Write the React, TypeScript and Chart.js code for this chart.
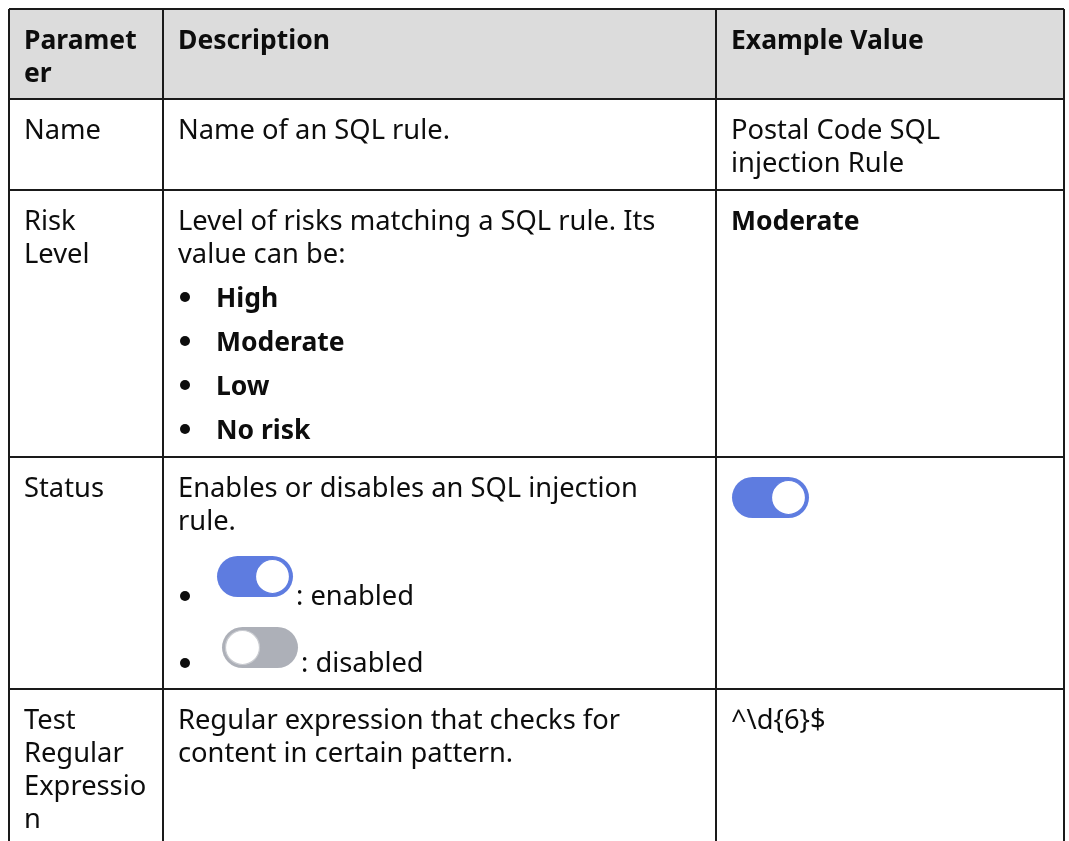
import React, { useEffect, useRef } from "react";
import { Chart, registerables } from "chart.js";

Chart.register(...registerables);

// ---------- data ----------
const columnHeaders = ["Paramet\ner", "Description", "Example Value"];
const parameterNames = ["Name", "Risk\nLevel", "Status", "Test\nRegular\nExpressio\nn"];
const descriptions = [
  "Name of an SQL rule.",
  "Level of risks matching a SQL rule. Its\nvalue can be:",
  "Enables or disables an SQL injection\nrule.",
  "Regular expression that checks for\ncontent in certain pattern.",
];
const riskLevels = ["High", "Moderate", "Low", "No risk"];
const statusStates = [true, false];
const statusLabels = [": enabled", ": disabled"];
const exampleValues = ["Postal Code SQL\ninjection Rule", "Moderate", "", "^\\d{6}$"];
const exampleBold = [false, true, false, false];
const exampleToggle: (boolean | null)[] = [null, null, true, null];

// ---------- layout ----------
const W = 1069;
const H = 841;
const COL_EDGES = [9, 163, 716, 1064];
const ROW_EDGES = [9, 99, 190, 457, 689];
const PAD_X = 15;
const FIRST_BASELINE = 40;
const LINE_H = 33;
const BULLET_LINE_H = 44;
const FONT_FAMILY = '"Noto Sans", "Open Sans", sans-serif';
const FONT_SIZE = 27.3;
const BOLD_FONT_SIZE = 26.5;
const TEXT_COLOR = "#0d0d0d";
const BORDER_COLOR = "#1a1a1a";
const HEADER_BG = "#dcdcdc";
const TOGGLE_ON = "#5e7ce0";
const TOGGLE_OFF = "#adb0b8";

function drawToggle(ctx: CanvasRenderingContext2D, x: number, y: number, w: number, h: number, on: boolean) {
  ctx.save();
  ctx.beginPath();
  const r = h / 2;
  ctx.moveTo(x + r, y);
  ctx.lineTo(x + w - r, y);
  ctx.arc(x + w - r, y + r, r, -Math.PI / 2, Math.PI / 2);
  ctx.lineTo(x + r, y + h);
  ctx.arc(x + r, y + r, r, Math.PI / 2, (3 * Math.PI) / 2);
  ctx.closePath();
  ctx.fillStyle = on ? TOGGLE_ON : TOGGLE_OFF;
  ctx.fill();
  const kr = r - 3.5;
  const kx = on ? x + w - r : x + r;
  ctx.beginPath();
  ctx.arc(kx, y + r, kr, 0, Math.PI * 2);
  ctx.fillStyle = "#ffffff";
  ctx.fill();
  ctx.lineWidth = 1.2;
  ctx.strokeStyle = on ? TOGGLE_ON : "#c9cbd0";
  ctx.stroke();
  ctx.restore();
}

const tablePlugin = {
  id: "tablePlugin",
  beforeDraw(chart: any) {
    const { ctx } = chart;
    const xs = chart.scales.x;
    const ys = chart.scales.y;
    ctx.save();
    ctx.fillStyle = "#ffffff";
    ctx.fillRect(0, 0, chart.width, chart.height);
    ctx.fillStyle = HEADER_BG;
    const x0 = xs.getPixelForValue(COL_EDGES[0]);
    const x1 = xs.getPixelForValue(COL_EDGES[COL_EDGES.length - 1]);
    const y0 = ys.getPixelForValue(ROW_EDGES[0]);
    const y1 = ys.getPixelForValue(ROW_EDGES[1]);
    ctx.fillRect(x0, y0, x1 - x0, y1 - y0);
    ctx.restore();
  },
  afterDraw(chart: any) {
    const { ctx } = chart;
    const xs = chart.scales.x;
    const ys = chart.scales.y;
    const px = (v: number) => xs.getPixelForValue(v);
    const py = (v: number) => ys.getPixelForValue(v);
    const font = (bold: boolean) =>
      bold ? `bold ${BOLD_FONT_SIZE}px ${FONT_FAMILY}` : `${FONT_SIZE}px ${FONT_FAMILY}`;

    ctx.save();
    ctx.fillStyle = TEXT_COLOR;
    ctx.textBaseline = "alphabetic";
    ctx.textAlign = "left";

    const drawLines = (text: string, col: number, row: number, bold: boolean) => {
      ctx.font = font(bold);
      ctx.fillStyle = TEXT_COLOR;
      const lines = text.split("\n");
      lines.forEach((ln, i) => {
        ctx.fillText(ln, px(COL_EDGES[col] + PAD_X), py(ROW_EDGES[row] + FIRST_BASELINE + i * LINE_H));
      });
      return lines.length;
    };

    // header
    columnHeaders.forEach((h, c) => drawLines(h, c, 0, true));

    // body rows
    parameterNames.forEach((name, i) => {
      const row = i + 1;
      drawLines(name, 0, row, false);
      const nDesc = drawLines(descriptions[i], 1, row, false);
      if (exampleToggle[i] !== null) {
        drawToggle(
          ctx,
          px(COL_EDGES[2] + PAD_X + 1),
          py(ROW_EDGES[row] + 20),
          77,
          41,
          exampleToggle[i] as boolean
        );
      } else {
        drawLines(exampleValues[i], 2, row, exampleBold[i]);
      }

      // risk level bullets
      if (i === 1) {
        const start = ROW_EDGES[row] + FIRST_BASELINE + (nDesc - 1) * LINE_H + BULLET_LINE_H;
        riskLevels.forEach((lv, k) => {
          const base = start + k * BULLET_LINE_H;
          ctx.beginPath();
          ctx.arc(px(COL_EDGES[1] + 22), py(base - 10), 5, 0, Math.PI * 2);
          ctx.fillStyle = TEXT_COLOR;
          ctx.fill();
          ctx.font = font(true);
          ctx.fillText(lv, px(COL_EDGES[1] + 53), py(base));
        });
      }

      // status bullets with toggles
      if (i === 2) {
        const rt = ROW_EDGES[row];
        const toggleTops = [99, 170];
        const toggleLefts = [54, 59];
        const labelBases = [148, 215];
        statusStates.forEach((on, k) => {
          const base = rt + labelBases[k];
          ctx.beginPath();
          ctx.arc(px(COL_EDGES[1] + 22), py(base - 9), 5, 0, Math.PI * 2);
          ctx.fillStyle = TEXT_COLOR;
          ctx.fill();
          const tx = px(COL_EDGES[1] + toggleLefts[k]);
          drawToggle(ctx, tx, py(rt + toggleTops[k]), 76, 41, on);
          ctx.font = font(false);
          ctx.fillStyle = TEXT_COLOR;
          ctx.fillText(statusLabels[k], tx + 79, py(base));
        });
      }
    });
    ctx.restore();
  },
};

export default function App() {
  const ref = useRef<HTMLCanvasElement | null>(null);

  useEffect(() => {
    document.body.style.margin = "0";
    const canvas = ref.current;
    if (!canvas) return;
    const chart = new Chart(canvas, {
      type: "scatter",
      data: { datasets: [] },
      options: {
        animation: false,
        responsive: false,
        devicePixelRatio: 1,
        layout: {
          padding: {
            left: COL_EDGES[0],
            top: ROW_EDGES[0],
            right: W - COL_EDGES[COL_EDGES.length - 1],
            bottom: 0,
          },
        },
        plugins: { legend: { display: false }, tooltip: { enabled: false } },
        scales: {
          x: {
            type: "linear",
            min: COL_EDGES[0],
            max: COL_EDGES[COL_EDGES.length - 1],
            afterBuildTicks: (s: any) => {
              s.ticks = COL_EDGES.map((v) => ({ value: v }));
            },
            ticks: { display: false },
            grid: { drawTicks: false, color: BORDER_COLOR, lineWidth: 2 },
            border: { display: false },
          },
          y: {
            type: "linear",
            reverse: true,
            min: ROW_EDGES[0],
            max: H,
            afterBuildTicks: (s: any) => {
              s.ticks = ROW_EDGES.map((v) => ({ value: v }));
            },
            ticks: { display: false },
            grid: { drawTicks: false, color: BORDER_COLOR, lineWidth: 2 },
            border: { display: false },
          },
        },
      },
      plugins: [tablePlugin],
    });
    return () => chart.destroy();
  }, []);

  return (
    <div style={{ width: W, height: H, position: "relative", background: "#fff" }}>
      <canvas ref={ref} width={W} height={H} style={{ display: "block", width: W, height: H }} />
    </div>
  );
}
